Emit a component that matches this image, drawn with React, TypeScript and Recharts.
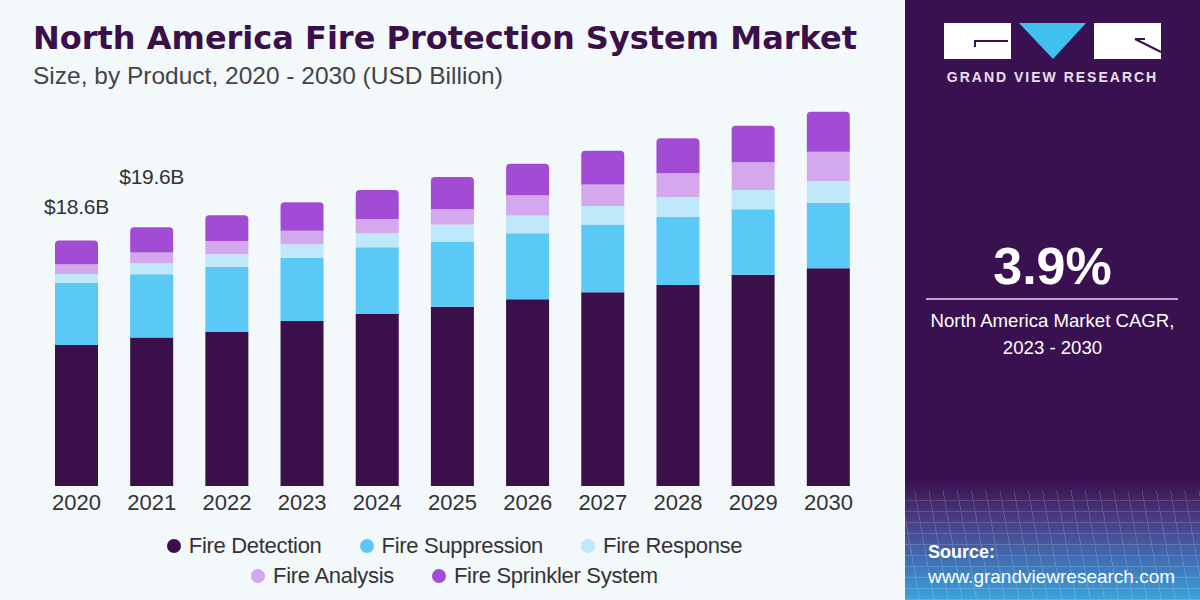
import { BarChart, Bar, XAxis, YAxis, LabelList } from 'recharts'

const years = ['2020', '2021', '2022', '2023', '2024', '2025', '2026', '2027', '2028', '2029', '2030']
const detection = [10.68, 11.25, 11.69, 12.5, 13.03, 13.58, 14.14, 14.67, 15.23, 16.01, 16.49]
const suppression = [4.72, 4.8, 4.92, 4.8, 5.05, 4.95, 5.0, 5.15, 5.15, 4.95, 4.97]
const response = [0.66, 0.83, 0.94, 1.02, 1.06, 1.29, 1.36, 1.39, 1.52, 1.46, 1.64]
const analysis = [0.73, 0.8, 1.01, 1.01, 1.08, 1.14, 1.52, 1.64, 1.8, 2.1, 2.22]
const sprinkler = [1.81, 1.92, 1.95, 2.17, 2.2, 2.45, 2.39, 2.55, 2.65, 2.77, 3.03]
const totalLabels = ['$18.6B', '$19.6B']

const series = [
  { key: 'detection', name: 'Fire Detection', color: '#3a0f4a' },
  { key: 'suppression', name: 'Fire Suppression', color: '#5bc9f5' },
  { key: 'response', name: 'Fire Response', color: '#bfe8fa' },
  { key: 'analysis', name: 'Fire Analysis', color: '#d4a8ec' },
  { key: 'sprinkler', name: 'Fire Sprinkler System', color: '#a24cd6' },
]

const data = years.map((year, i) => ({
  year,
  detection: detection[i],
  suppression: suppression[i],
  response: response[i],
  analysis: analysis[i],
  sprinkler: sprinkler[i],
}))

const font = '"Liberation Sans", Arial, sans-serif'
const labelLift = [34, 51]

function TotalLabel(props: any) {
  const { x, y, width, index } = props
  if (index >= totalLabels.length) return null
  return (
    <text
      x={x + width / 2}
      y={y - labelLift[index]}
      textAnchor="middle"
      dominantBaseline="central"
      fontSize={21}
      fill="#333"
      fontFamily={font}
      letterSpacing={-0.3}
    >
      {totalLabels[index]}
    </text>
  )
}

function LegendItem({ name, color }: { name: string; color: string }) {
  return (
    <div style={{ display: 'flex', alignItems: 'center', margin: '0 19px' }}>
      <span style={{ width: 14, height: 14, borderRadius: 7, background: color, marginRight: 8 }} />
      <span style={{ fontSize: 22, color: '#333', letterSpacing: -0.3 }}>{name}</span>
    </div>
  )
}

export default function App() {
  const row1 = series.slice(0, 3)
  const row2 = series.slice(3)
  return (
    <div
      style={{
        position: 'absolute',
        left: 0,
        top: 0,
        width: 1200,
        height: 600,
        background: '#f3f8fb',
        fontFamily: font,
        overflow: 'hidden',
      }}
    >
      <div
        style={{
          position: 'absolute',
          left: 33,
          top: 19,
          fontSize: 32,
          fontWeight: 700,
          fontFamily: '"DejaVu Sans", sans-serif',
          color: '#3a0f4a',
          whiteSpace: 'nowrap',
        }}
      >
        North America Fire Protection System Market
      </div>
      <div style={{ position: 'absolute', left: 33, top: 62, fontSize: 24.5, color: '#444', whiteSpace: 'nowrap' }}>
        Size, by Product, 2020 - 2030 (USD Billion)
      </div>

      <div style={{ position: 'absolute', left: 0, top: 0 }}>
        <BarChart width={905} height={600} data={data} margin={{ top: 90, right: 39, left: 39, bottom: 84 }}>
          <XAxis
            dataKey="year"
            axisLine={false}
            tickLine={false}
            tick={{ fill: '#333', fontSize: 22, fontFamily: font }}
            tickMargin={2}
            interval={0}
            height={30}
          />
          <YAxis hide domain={[0, 30]} />
          {series.map((s, i) => (
            <Bar
              key={s.key}
              dataKey={s.key}
              name={s.name}
              stackId="a"
              fill={s.color}
              barSize={43}
              isAnimationActive={false}
              radius={i === series.length - 1 ? [4, 4, 0, 0] : 0}
            >
              {i === series.length - 1 && <LabelList dataKey={s.key} content={TotalLabel} />}
            </Bar>
          ))}
        </BarChart>
      </div>

      <div style={{ position: 'absolute', left: 0, top: 533, width: 905 }}>
        <div style={{ display: 'flex', justifyContent: 'center', marginLeft: 4 }}>
          {row1.map((s) => (
            <LegendItem key={s.key} name={s.name} color={s.color} />
          ))}
        </div>
        <div style={{ display: 'flex', justifyContent: 'center', marginTop: 4, marginLeft: 4 }}>
          {row2.map((s) => (
            <LegendItem key={s.key} name={s.name} color={s.color} />
          ))}
        </div>
      </div>

      {/* right panel */}
      <div
        style={{
          position: 'absolute',
          left: 905,
          top: 0,
          width: 295,
          height: 600,
          background:
            'linear-gradient(180deg, #3a1150 0%, #3a1150 80%, #4a3f86 87%, #3f74b8 94%, #3aa5dc 100%)',
          color: '#fff',
        }}
      >
        <div
          style={{
            position: 'absolute',
            left: 0,
            top: 490,
            width: 295,
            height: 110,
            opacity: 0.16,
            backgroundImage:
              'repeating-linear-gradient(0deg, #fff 0 1px, transparent 1px 11px), repeating-linear-gradient(80deg, #fff 0 1px, transparent 1px 14px)',
          }}
        />
        <svg width={295} height={70} style={{ position: 'absolute', left: 0, top: 0 }}>
          <rect x={39} y={23} width={67} height={36} fill="#fff" />
          <path d="M70 47 V41 H103" stroke="#3a1150" strokeWidth={2} fill="none" />
          <polygon points="114,23 181,23 148,59" fill="#3fc0ef" />
          <rect x={189} y={23} width={67} height={36} fill="#fff" />
          <path d="M230 39 L256 52" stroke="#3a1150" strokeWidth={2} fill="none" />
          <path d="M230 39 H240" stroke="#3a1150" strokeWidth={2} fill="none" />
        </svg>
        <div
          style={{
            position: 'absolute',
            left: 0,
            width: 295,
            top: 69,
            textAlign: 'center',
            fontSize: 14,
            fontWeight: 700,
            letterSpacing: 2,
            color: '#e8e0ee',
            whiteSpace: 'nowrap',
          }}
        >
          GRAND VIEW RESEARCH
        </div>
        <div
          style={{
            position: 'absolute',
            left: 0,
            width: 295,
            top: 236,
            textAlign: 'center',
            fontSize: 52,
            fontWeight: 700,
          }}
        >
          3.9%
        </div>
        <div style={{ position: 'absolute', left: 21, top: 298, width: 252, height: 2, background: '#b9a8c8' }} />
        <div
          style={{
            position: 'absolute',
            left: 0,
            width: 295,
            top: 307,
            textAlign: 'center',
            fontSize: 18.6,
            lineHeight: '27px',
            whiteSpace: 'nowrap',
          }}
        >
          North America Market CAGR,
          <br />
          2023 - 2030
        </div>
        <div style={{ position: 'absolute', left: 23, top: 542, fontSize: 18, fontWeight: 700 }}>Source:</div>
        <div style={{ position: 'absolute', left: 23, top: 566, fontSize: 19, whiteSpace: 'nowrap' }}>
          www.grandviewresearch.com
        </div>
      </div>
    </div>
  )
}
